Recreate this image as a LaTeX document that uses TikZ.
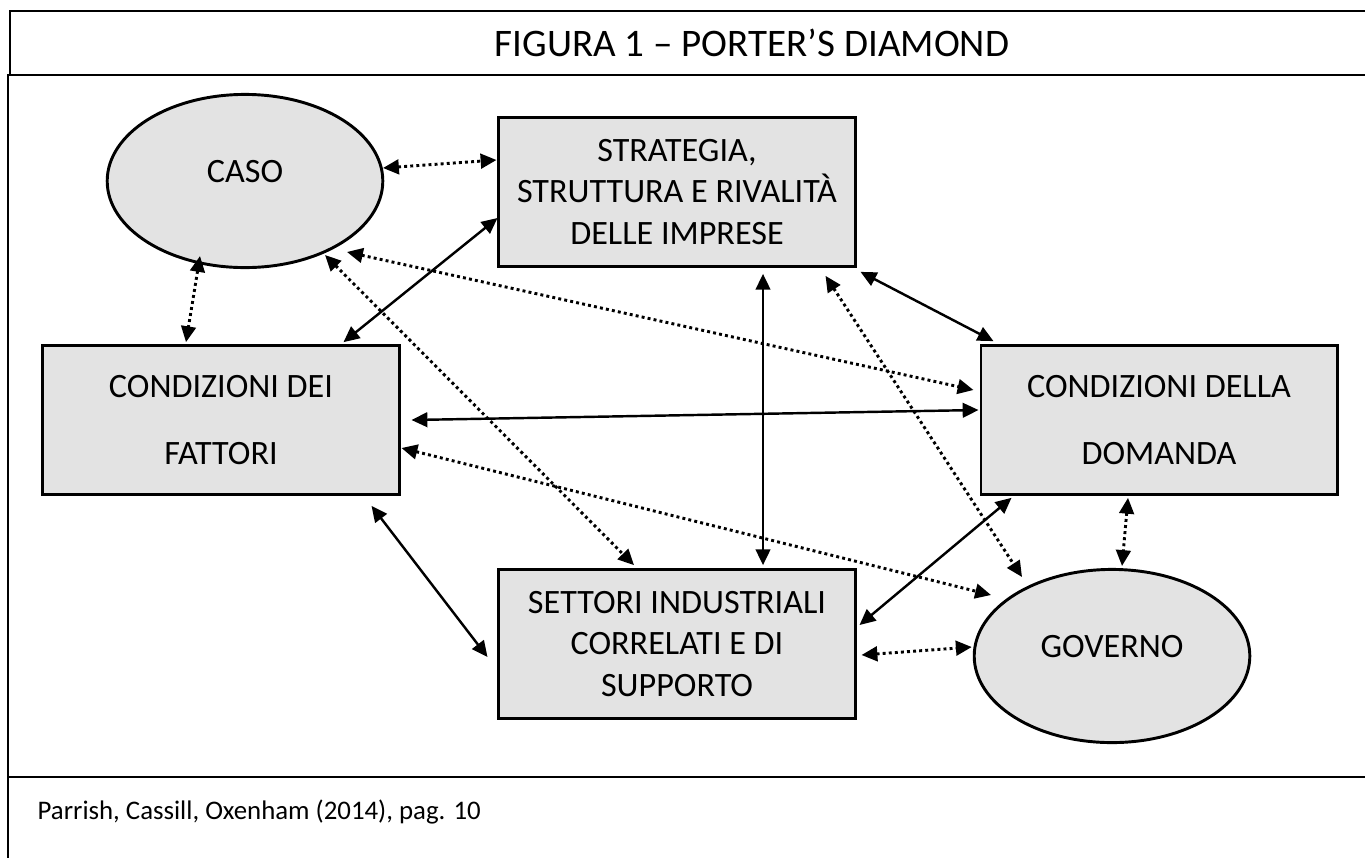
\documentclass[tikz,border=0pt]{standalone}
\usepackage{fontspec}
\setmainfont{Carlito}
\usetikzlibrary{arrows.meta, calc, shapes.geometric}

\begin{document}
\begin{tikzpicture}[
        x=0.41pt, y=-0.41pt,
        block/.style={draw, rectangle, line width=1.2pt, fill=black!11, minimum width=146pt, minimum height=61pt, align=center, font=\fontsize{14}{17}\selectfont},
        oval/.style={draw, ellipse, line width=1.2pt, fill=black!11, minimum width=113pt, minimum height=71pt, text height=9pt, text depth=8pt, font=\fontsize{14}{17}\selectfont},
        link/.style={<->, line width=1pt},
        weak/.style={<->, line width=1.2pt, dash pattern=on 1.2pt off 1.3pt},
        >={Triangle[length=6.5pt, width=6pt]},
    ]
    \useasboundingbox (0,0) rectangle (1365,858);
    % table frame
    \draw[line width=1pt] (1365,11) -- (10,11) -- (10,75);
    \draw[line width=1pt] (1365,75) -- (8,75) -- (8,858);
    \draw[line width=1pt] (8,777) -- (1365,777);
    \node (title) at (752,43) {\fontsize{16}{19}\selectfont FIGURA 1 – PORTER’S DIAMOND};
    \node[anchor=west, font=\fontsize{11}{13}\selectfont] (src) at (29,812) {Parrish, Cassill, Oxenham (2014), pag. 10};

    % the four determinants and the two outside forces
    \node[oval]  (caso)  at (245,181)  {CASO};
    \node[block] (strat) at (677,192)  {STRATEGIA,\\STRUTTURA E RIVALITÀ\\DELLE IMPRESE};
    \node[block] (fatt)  at (221,420)  {CONDIZIONI DEI\\[10.5pt]FATTORI};
    \node[block] (dom)   at (1159,420) {CONDIZIONI DELLA\\[10.5pt]DOMANDA};
    \node[block] (sett)  at (677,644)  {SETTORI INDUSTRIALI\\CORRELATI E DI\\SUPPORTO};
    \node[oval]  (gov)   at (1112,656) {GOVERNO};

    % solid links
    \draw[link] ($(fatt.north east)+(-57,-2)$) -- ($(strat.west)+(0,26)$);
    \draw[link] ($(strat.south)+(86,6)$) -- ($(sett.north)+(86,-3)$);
    \draw[link] ($(strat.south east)+(4,4)$) -- ($(dom.north west)+(14,-3)$);
    \draw[link] ($(fatt.east)+(11,0)$) -- ($(dom.west)+(-1,-10)$);
    \draw[link] ($(fatt.south east)+(-29,10)$) -- ($(sett.west)+(-10,13)$);
    \draw[link] ($(sett.east)+(3,-19)$) -- ($(dom.south west)+(32,2)$);

    % dotted links
    \draw[weak] ($(caso.center)+(138,-13)$) -- ($(strat.west)+(-1,-32)$);
    \draw[weak] ($(caso.center)+(-45,75)$) -- ($(fatt.north)+(-35,-2)$);
    \draw[weak] ($(caso.center)+(102,71)$) -- ($(dom.west)+(-6,-30)$);
    \draw[weak] ($(caso.center)+(80,74)$) -- ($(sett.north)+(-43,-3)$);
    \draw[weak] ($(fatt.east)+(1,28)$) -- ($(gov.center)+(-121,-61)$);
    \draw[weak] ($(sett.east)+(5,11)$) -- ($(gov.west)+(-1,-9)$);
    \draw[weak] ($(dom.south)+(-31,2)$) -- ($(gov.north)+(10,-2)$);
    \draw[weak] ($(strat.south east)+(-31,8)$) -- ($(gov.center)+(-90,-79)$);
\end{tikzpicture}
\end{document}
